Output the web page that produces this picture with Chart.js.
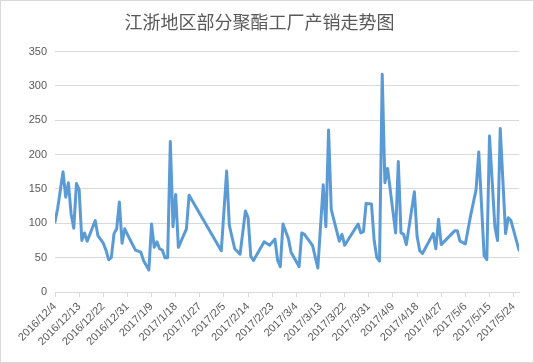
<!DOCTYPE html>
<html>
<head>
<meta charset="utf-8">
<script src="https://cdn.jsdelivr.net/npm/chart.js@4/dist/chart.umd.min.js"></script>
<style>
  body { margin: 0; background: #fff; overflow: hidden; }
  .wrap { position: relative; width: 534px; height: 363px; }
</style>
</head>
<body>
<div class="wrap"><canvas id="chartTrend"></canvas></div>
<script>
// ── Data ──────────────────────────────────
const chartTitle = '江浙地区部分聚酯工厂产销走势图';

const dates = [
    '2016/12/4', '2016/12/5', '2016/12/7', '2016/12/8', '2016/12/9', '2016/12/10',
    '2016/12/11', '2016/12/12', '2016/12/13', '2016/12/14', '2016/12/15', '2016/12/16',
    '2016/12/19', '2016/12/20', '2016/12/22', '2016/12/23', '2016/12/24', '2016/12/25',
    '2016/12/26', '2016/12/27', '2016/12/28', '2016/12/29', '2016/12/30', '2017/1/1',
    '2017/1/3', '2017/1/5', '2017/1/6', '2017/1/8', '2017/1/9', '2017/1/10',
    '2017/1/11', '2017/1/12', '2017/1/13', '2017/1/14', '2017/1/15', '2017/1/16',
    '2017/1/17', '2017/1/18', '2017/1/19', '2017/1/22', '2017/1/23', '2017/2/4',
    '2017/2/6', '2017/2/7', '2017/2/9', '2017/2/11', '2017/2/13', '2017/2/14',
    '2017/2/15', '2017/2/16', '2017/2/20', '2017/2/22', '2017/2/24', '2017/2/25',
    '2017/2/26', '2017/2/27', '2017/3/1', '2017/3/2', '2017/3/5', '2017/3/6',
    '2017/3/7', '2017/3/10', '2017/3/12', '2017/3/14', '2017/3/15', '2017/3/16',
    '2017/3/17', '2017/3/20', '2017/3/21', '2017/3/22', '2017/3/27', '2017/3/28',
    '2017/3/29', '2017/3/30', '2017/4/1', '2017/4/2', '2017/4/3', '2017/4/4',
    '2017/4/5', '2017/4/6', '2017/4/7', '2017/4/10', '2017/4/11', '2017/4/12',
    '2017/4/13', '2017/4/14', '2017/4/17', '2017/4/18', '2017/4/19', '2017/4/20',
    '2017/4/24', '2017/4/25', '2017/4/26', '2017/4/27', '2017/5/2', '2017/5/3',
    '2017/5/4', '2017/5/6', '2017/5/8', '2017/5/10', '2017/5/11', '2017/5/13',
    '2017/5/14', '2017/5/15', '2017/5/17', '2017/5/18', '2017/5/19', '2017/5/21',
    '2017/5/22', '2017/5/23', '2017/5/26'
];

const chanxiao = [
    102, 122, 175, 138, 159, 114,
    93, 158, 149, 75, 86, 74,
    104, 82, 71, 61, 47, 50,
    85, 92, 131, 71, 92, 76,
    61, 58, 46, 32, 99, 65,
    73, 63, 61, 50, 50, 219,
    95, 142, 65, 92, 141, 60,
    176, 97, 63, 55, 118, 108,
    52, 46, 73, 68, 77, 46,
    37, 99, 78, 58, 37, 86,
    84, 68, 35, 156, 95, 236,
    120, 74, 84, 68, 99, 86,
    88, 129, 128, 75, 50, 45,
    317, 159, 180, 86, 190, 86,
    84, 69, 146, 81, 60, 56,
    85, 63, 106, 69, 89, 89,
    74, 70, 112, 149, 204, 53,
    47, 227, 95, 75, 238, 85,
    108, 104, 61
];

const tickDates = [
    '2016/12/4', '2016/12/13', '2016/12/22', '2016/12/31', '2017/1/9',
    '2017/1/18', '2017/1/27', '2017/2/5', '2017/2/14', '2017/2/23',
    '2017/3/4', '2017/3/13', '2017/3/22', '2017/3/31', '2017/4/9',
    '2017/4/18', '2017/4/27', '2017/5/6', '2017/5/15', '2017/5/24'
];

const yTicks = [0, 50, 100, 150, 200, 250, 300, 350];

// ── Helpers ───────────────────────────────
function dayIndex(str) {
    const p = str.split('/').map(Number);
    return Math.round((Date.UTC(p[0], p[1] - 1, p[2]) - Date.UTC(2016, 11, 4)) / 86400000);
}

const points   = dates.map(function(d, i) { return { x: dayIndex(d), y: chanxiao[i] }; });
const tickDays = tickDates.map(dayIndex);
const lastDay  = dayIndex(dates[dates.length - 1]);

const textColor = '#595959';
const gridColor = '#d9d9d9';

// white background + thin outer frame like the Excel chart area
const frame = {
    id: 'frame',
    beforeDraw: function(chart) {
        const c = chart.ctx;
        c.save();
        c.fillStyle = '#fff';
        c.fillRect(0, 0, chart.width, chart.height);
        c.restore();
    },
    afterDraw: function(chart) {
        const c = chart.ctx;
        c.save();
        c.strokeStyle = gridColor;
        c.lineWidth = 1;
        c.strokeRect(0.5, 0.5, chart.width - 1, chart.height - 1);
        c.restore();
    }
};

// ── Chart ─────────────────────────────────
new Chart(document.getElementById('chartTrend'), {
    type: 'line',
    data: {
        datasets: [{
            label: '产销',
            data: points,
            borderColor: '#5b9bd5',
            borderWidth: 3,
            borderJoinStyle: 'round',
            borderCapStyle: 'round',
            pointRadius: 0,
            tension: 0,
            fill: false
        }]
    },
    options: {
        responsive: true,
        maintainAspectRatio: false,
        animation: false,
        layout: { padding: { left: 0, right: 15, top: 0, bottom: 0 } },
        plugins: {
            legend: { display: false },
            tooltip: { enabled: false },
            title: {
                display: true,
                text: chartTitle,
                color: textColor,
                font: { family: "'Noto Sans CJK SC', sans-serif", size: 18, weight: 'normal' },
                padding: { top: 11, bottom: 19 }
            }
        },
        scales: {
            x: {
                type: 'linear',
                min: 0,
                max: lastDay,
                afterBuildTicks: function(scale) {
                    scale.ticks = tickDays.map(function(v) { return { value: v }; });
                },
                afterFit: function(scale) { scale.height = 71; },
                grid: { drawOnChartArea: false, color: gridColor, tickLength: 5 },
                border: { color: gridColor },
                ticks: {
                    autoSkip: false,
                    maxRotation: 45,
                    minRotation: 45,
                    padding: 3,
                    color: textColor,
                    font: { family: "'Liberation Sans', sans-serif", size: 11 },
                    callback: function(val, i) { return tickDates[i]; }
                }
            },
            y: {
                min: yTicks[0],
                max: yTicks[yTicks.length - 1],
                afterFit: function(scale) { scale.width = 55; },
                grid: { color: gridColor, drawTicks: false },
                border: { display: false },
                ticks: {
                    stepSize: 50,
                    padding: 8,
                    color: textColor,
                    font: { family: "'Liberation Sans', sans-serif", size: 11 }
                }
            }
        }
    },
    plugins: [frame]
});
</script>
</body>
</html>
